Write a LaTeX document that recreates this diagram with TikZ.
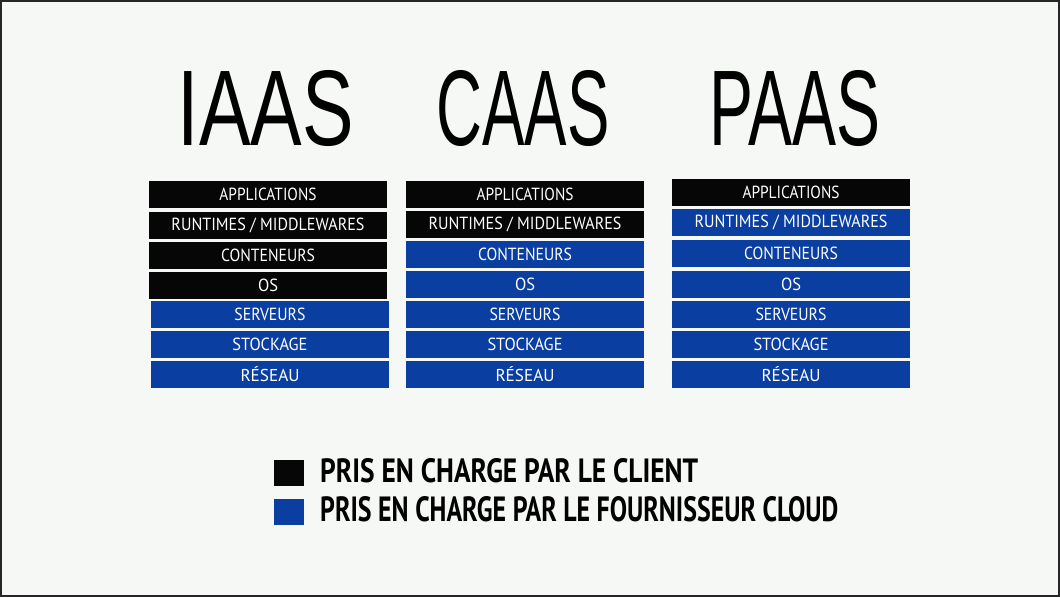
\documentclass[tikz,border=0pt]{standalone}
\usepackage{fontspec}
\setmainfont{PT Sans}
\newfontfamily\titlefont{Liberation Sans}
\definecolor{bg}{RGB}{246,248,245}
\definecolor{cblue}{RGB}{10,62,160}
\definecolor{cblack}{RGB}{6,6,6}
\newcommand\lbl[2]{\resizebox{#1}{12.5pt}{#2}}
\newcommand\lblw[2]{\resizebox{#1}{!}{#2}}
\begin{document}
\begin{tikzpicture}[x=1pt,y=-1pt,
  cell/.style={minimum width=238pt,minimum height=27pt,inner sep=0pt,text=white},
  cl/.style={cell,fill=cblack},
  pr/.style={cell,fill=cblue},
  ttl/.style={inner sep=0pt,text=black},
  sq/.style={minimum width=30pt,minimum height=26pt,inner sep=0pt}]
\fill[bg] (0,0) rectangle (1060,597);
\draw[line width=2pt,black!85] (1,1) rectangle (1059,596);

% titles
\node[ttl] (ti) at (266,108) {\resizebox{176pt}{75pt}{\titlefont IAAS}};
\node[ttl] (tc) at (523,108) {\resizebox{173pt}{75pt}{\titlefont CAAS}};
\node[ttl] (tp) at (795,108) {\resizebox{171pt}{75pt}{\titlefont PAAS}};

% IAAS column
\node[cl] (i1) at (268,194.5) {\lbl{97pt}{APPLICATIONS}};
\node[cl] (i2) at (268,225) {\lbl{193pt}{RUNTIMES / MIDDLEWARES}};
\node[cl] (i3) at (268,255) {\lbl{94pt}{CONTENEURS}};
\node[cl] (i4) at (268,285) {\lbl{20pt}{OS}};
\node[pr] (i5) at (270,314) {\lbl{71pt}{SERVEURS}};
\node[pr] (i6) at (270,344.5) {\lbl{75pt}{STOCKAGE}};
\node[pr] (i7) at (270,374.5) {\lblw{59pt}{RÉSEAU}};

% CAAS column
\node[cl] (c1) at (525,194.5) {\lbl{97pt}{APPLICATIONS}};
\node[cl] (c2) at (525,224.5) {\lbl{193pt}{RUNTIMES / MIDDLEWARES}};
\node[pr] (c3) at (525,254.5) {\lbl{94pt}{CONTENEURS}};
\node[pr] (c4) at (525,284.5) {\lbl{20pt}{OS}};
\node[pr] (c5) at (525,314) {\lbl{71pt}{SERVEURS}};
\node[pr] (c6) at (525,344.5) {\lbl{75pt}{STOCKAGE}};
\node[pr] (c7) at (525,374.5) {\lblw{59pt}{RÉSEAU}};

% PAAS column
\node[cl] (p1) at (791,192) {\lbl{97pt}{APPLICATIONS}};
\node[pr] (p2) at (791,222.5) {\lbl{193pt}{RUNTIMES / MIDDLEWARES}};
\node[pr] (p3) at (791,253.5) {\lbl{94pt}{CONTENEURS}};
\node[pr] (p4) at (791,284.5) {\lbl{20pt}{OS}};
\node[pr] (p5) at (791,314) {\lbl{71pt}{SERVEURS}};
\node[pr] (p6) at (791,344.5) {\lbl{75pt}{STOCKAGE}};
\node[pr] (p7) at (791,374.5) {\lblw{59pt}{RÉSEAU}};

% legend
\node[sq,fill=cblack] (lb) at (289,473) {};
\node[sq,fill=cblue] (ll) at (289,512) {};
\node[anchor=west,inner sep=0pt] (lt1) at (320,470.5) {\resizebox{378pt}{24pt}{\bfseries PRIS EN CHARGE PAR LE CLIENT}};
\node[anchor=west,inner sep=0pt] (lt2) at (320,509.5) {\resizebox{518pt}{25pt}{\bfseries PRIS EN CHARGE PAR LE FOURNISSEUR CLOUD}};
\end{tikzpicture}
\end{document}
